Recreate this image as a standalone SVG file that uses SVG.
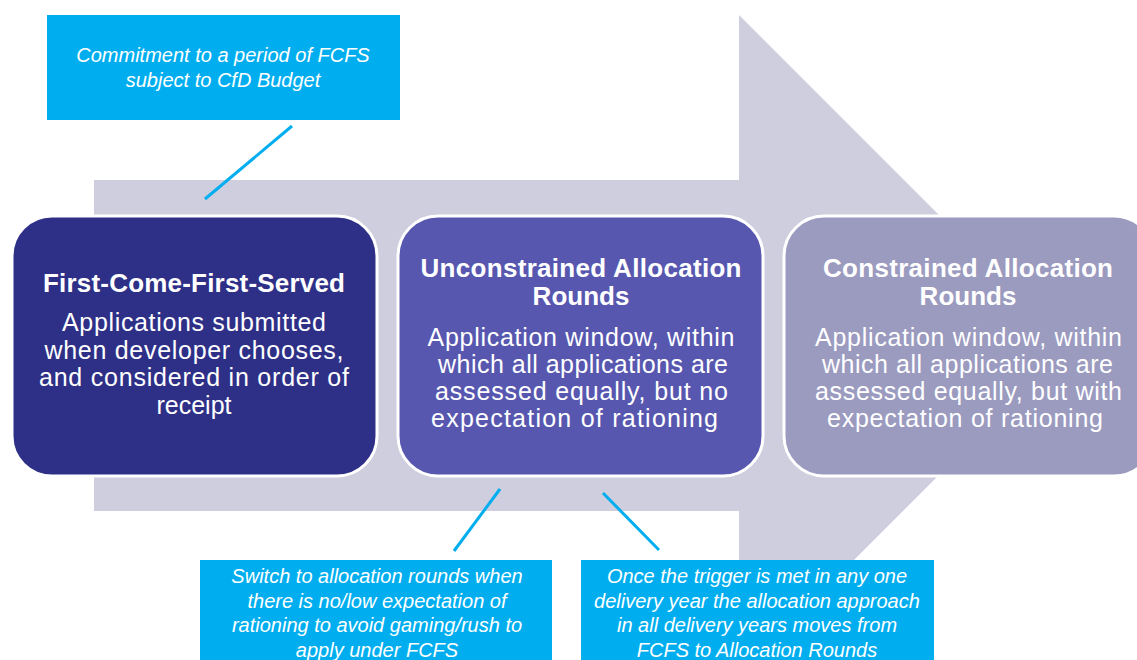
<svg xmlns="http://www.w3.org/2000/svg" width="1137" height="660" viewBox="0 0 1137 660">
<style>
.box{stroke:#fff;stroke-width:3}
.t{font-family:"Liberation Sans",Arial,sans-serif;fill:#fff;text-anchor:middle}
.h{font-size:26px;font-weight:bold}
.b{font-size:25px}
.c{font-size:20px;font-style:italic}
.call{fill:#00AEEF}
.lnk{stroke:#00AEEF;stroke-width:3;fill:none}
</style>
<rect width="1137" height="660" fill="#fff"/>
<g id="arrow">
<polygon points="94,180 739,180 739,15 1069,345 739,675 739,511 94,511" fill="#CECEDF"/>
</g>
<g id="node-fcfs">
<rect class="box" x="12" y="216" width="365" height="260" rx="40" fill="#2E3087"/>
<text class="t h" x="194" y="292" textLength="302" lengthAdjust="spacing">First-Come-First-Served</text>
<text class="t b" x="194" y="331" textLength="264" lengthAdjust="spacing">Applications submitted</text>
<text class="t b" x="194" y="358.5" textLength="299" lengthAdjust="spacing">when developer chooses,</text>
<text class="t b" x="194" y="386" textLength="310" lengthAdjust="spacing">and considered in order of</text>
<text class="t b" x="194" y="413.5">receipt</text>
</g>
<g id="node-unconstrained">
<rect class="box" x="398" y="216" width="365" height="260" rx="40" fill="#5757B0"/>
<text class="t h" x="581" y="277" textLength="321" lengthAdjust="spacing">Unconstrained Allocation</text>
<text class="t h" x="581" y="305">Rounds</text>
<text class="t b" x="581" y="346" textLength="307" lengthAdjust="spacing">Application window, within</text>
<text class="t b" x="583" y="373" textLength="290" lengthAdjust="spacing">which all applications are</text>
<text class="t b" x="581.5" y="400" textLength="293" lengthAdjust="spacing">assessed equally, but no</text>
<text class="t b" x="574.5" y="427" textLength="287" lengthAdjust="spacing">expectation of rationing</text>
</g>
<g id="node-constrained">
<rect class="box" x="784" y="216" width="370" height="260" rx="40" fill="#9B9ABF"/>
<text class="t h" x="968" y="277" textLength="290" lengthAdjust="spacing">Constrained Allocation</text>
<text class="t h" x="968" y="305">Rounds</text>
<text class="t b" x="968.5" y="346" textLength="307" lengthAdjust="spacing">Application window, within</text>
<text class="t b" x="967.5" y="373" textLength="291" lengthAdjust="spacing">which all applications are</text>
<text class="t b" x="968.5" y="400" textLength="307" lengthAdjust="spacing">assessed equally, but with</text>
<text class="t b" x="965" y="427" textLength="276" lengthAdjust="spacing">expectation of rationing</text>
</g>
<g id="connectors">
<line class="lnk" x1="292" y1="126" x2="205" y2="199"/>
<line class="lnk" x1="500" y1="489" x2="454" y2="551"/>
<line class="lnk" x1="603" y1="493" x2="659" y2="550"/>
</g>
<g id="callout-fcfs">
<rect class="call" x="47" y="15" width="353" height="105"/>
<text class="t c" x="223" y="62">Commitment to a period of FCFS</text>
<text class="t c" x="223" y="87">subject to CfD Budget</text>
</g>
<g id="callout-switch">
<rect class="call" x="200" y="560" width="352" height="110"/>
<text class="t c" x="377" y="583">Switch to allocation rounds when</text>
<text class="t c" x="377" y="607.5">there is no/low expectation of</text>
<text class="t c" x="377" y="632">rationing to avoid gaming/rush to</text>
<text class="t c" x="377" y="656.5">apply under FCFS</text>
</g>
<g id="callout-trigger">
<rect class="call" x="581" y="560" width="353" height="110"/>
<text class="t c" x="757" y="583">Once the trigger is met in any one</text>
<text class="t c" x="757" y="607.5">delivery year the allocation approach</text>
<text class="t c" x="757" y="632">in all delivery years moves from</text>
<text class="t c" x="757" y="656.5">FCFS to Allocation Rounds</text>
</g>
</svg>
